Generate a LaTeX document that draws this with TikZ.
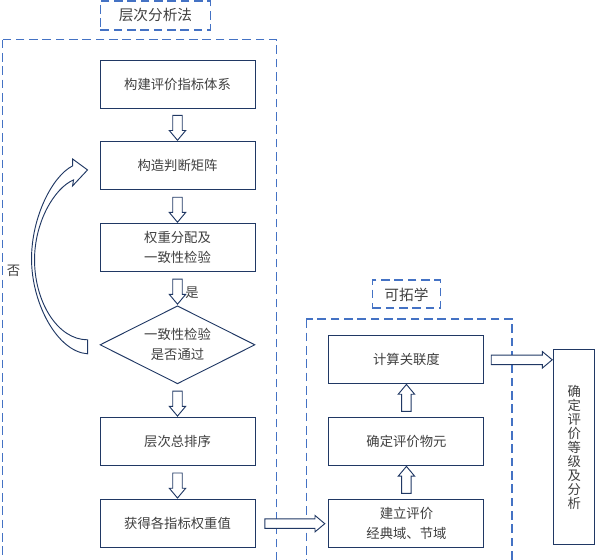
\documentclass[tikz,border=0pt]{standalone}
\usepackage{fontspec}
\newfontfamily\cjk{Noto Sans CJK SC}
\usepackage{tikz}
\usetikzlibrary{
  shapes.geometric,
  shapes.arrows,
  positioning,
  calc,
  backgrounds,
}
\definecolor{evnavy}{HTML}{203864}
\definecolor{evblue}{HTML}{4472C4}
\definecolor{evtext}{HTML}{404040}

\begin{document}
\begin{tikzpicture}[
  x=0.75pt, y=-0.75pt,
  node distance=24.75pt and 54.75pt,
  block/.style={
    draw=evnavy,
    line width=0.7pt,
    fill=white,
    minimum width=116.25pt,
    minimum height=36pt,
    align=center,
    text=evtext,
    font=\cjk\fontsize{10pt}{15pt}\selectfont,
    inner sep=2pt,
  },
  decision/.style={
    block,
    diamond,
    aspect=2,
    minimum width=116.25pt,
    minimum height=58.5pt,
    inner sep=0pt,
  },
  tallblock/.style={
    block,
    minimum width=30.75pt,
    minimum height=146.25pt,
    font=\cjk\fontsize{10pt}{10.5pt}\selectfont,
  },
  groupbox/.style={
    draw=evblue,
    line width=1.4pt,
    dash pattern=on 6.5pt off 3.5pt,
    inner sep=0pt,
  },
  grouptitle/.style={
    groupbox,
    text=evtext,
    font=\cjk\fontsize{11pt}{13pt}\selectfont,
  },
  hollowarr/.style={
    single arrow,
    draw=evnavy,
    line width=0.7pt,
    fill=white,
    inner xsep=0pt,
    inner ysep=3.2pt,
    single arrow head extend=2.6pt,
    single arrow tip angle=80,
    minimum height=#1,
    sloped,
    allow upside down,
  },
  hollowarr/.default=18.75pt,
  curvearr/.style={
    draw=evnavy,
    line width=0.7pt,
    fill=white,
  },
  note/.style={
    text=evtext,
    font=\cjk\fontsize{10pt}{12pt}\selectfont,
    inner sep=0pt,
  },
]

\useasboundingbox (0,0) rectangle (596,560);

% =============================================================================
% AHP column
% =============================================================================
\node[block] (build) at (177.5,84) {构建评价指标体系};
\node[block, below=of build] (matrix) {构造判断矩阵};
\node[block, below=of matrix] (weight) {权重分配及\\一致性检验};
\node[decision, below=of weight] (judge) {一致性检验\\是否通过};
\node[block, below=of judge] (rank) {层次总排序};
\node[block, below=of rank] (final) {获得各指标权重值};

\path (build) -- node[hollowarr] (a1) {} (matrix);
\path (matrix) -- node[hollowarr] (a2) {} (weight);
\path (weight) -- node[hollowarr] (a3) {} (judge);
\path (judge) -- node[hollowarr] (a4) {} (rank);
\path (rank) -- node[hollowarr] (a5) {} (final);

\node[note] (yes) at ([xshift=10.9pt, yshift=-3pt]a3.center) {是};

% feedback loop: not passed -> back to matrix
\coordinate (nt) at ([xshift=-9pt]judge.west);
\coordinate (nh) at ([xshift=-9pt, yshift=-3pt]matrix.west);
\draw[curvearr]
  ($(nt)+(0,9)$) .. controls +(-30,-2) and +(0,45) .. ($(nt)+(-56,-86)$)
  .. controls +(0,-42) and +(-20,10) .. ($(nh)+(-15,-4)$)
  -- ($(nh)+(-15,-11)$) -- (nh) -- ($(nh)+(-15,16)$) -- ($(nh)+(-14,10)$)
  .. controls +(-19,8) and +(0,-38) .. ($(nt)+(-53,-85)$)
  .. controls +(0,42) and +(-30,0) .. ($(nt)+(0,-5)$) -- cycle;

\node[note] (no) at ($(nt)+(-74,-74)$) {否};

% =============================================================================
% Extension column
% =============================================================================
\node[block, right=of final] (classic) {建立评价\\经典域、节域};
\node[block, above=of classic] (matter) {确定评价物元};
\node[block, above=of matter] (relate) {计算关联度};

\node[tallblock, right=51.75pt of matter, yshift=-4pt] (grade)
  {确\\定\\评\\价\\等\\级\\及\\分\\析};

\path (classic) -- node[hollowarr=20.25pt] (b1) {} (matter);
\path (matter) -- node[hollowarr=20.25pt] (b2) {} (relate);
\path (final) -- node[hollowarr=45pt] (c1) {} (classic);
\path (relate.east) -- node[hollowarr=45.75pt] (c2) {} (relate.east -| grade.west);

% =============================================================================
% Dashed group frames
% =============================================================================
\coordinate (ahpNW) at ([xshift=-72.75pt, yshift=15pt]build.north west);
\coordinate (ahpSE) at ([xshift=15.75pt, yshift=-11.25pt]final.south east);
\coordinate (extNW) at ([xshift=-16.5pt, yshift=12pt]relate.north west);
\coordinate (extSE) at ([xshift=21pt, yshift=-11.25pt]classic.south east);

\begin{scope}[on background layer]
  \draw[groupbox] (ahpNW) rectangle (ahpSE);
  \draw[groupbox] (extNW) rectangle (extSE);
\end{scope}

\node[grouptitle, minimum width=82.5pt, minimum height=21.75pt, anchor=south west]
  (ahptitle) at ([yshift=6.75pt]ahpNW -| build.west) {层次分析法};
\node[grouptitle, minimum width=51pt, minimum height=21pt, anchor=south]
  (exttitle) at ([yshift=7.5pt]extNW -| relate.north) {可拓学};

\end{tikzpicture}
\end{document}
